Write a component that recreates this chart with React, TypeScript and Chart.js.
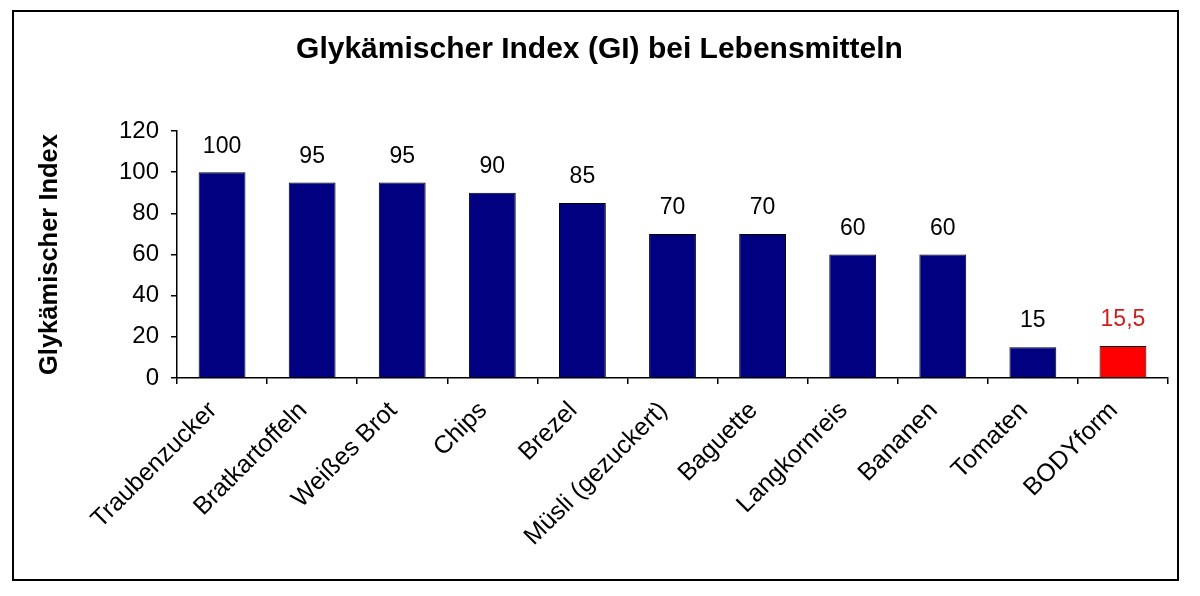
import React, { useEffect, useRef } from "react";
import { Chart, registerables } from "chart.js";

Chart.register(...registerables);

const categories = [
  "Traubenzucker",
  "Bratkartoffeln",
  "Weißes Brot",
  "Chips",
  "Brezel",
  "Müsli (gezuckert)",
  "Baguette",
  "Langkornreis",
  "Bananen",
  "Tomaten",
  "BODYform",
];
const giValues = [100, 95, 95, 90, 85, 70, 70, 60, 60, 15, 15.5];
const barColors = [
  "#000080", "#000080", "#000080", "#000080", "#000080", "#000080",
  "#000080", "#000080", "#000080", "#000080", "#ff0000",
];
const labelColors = [
  "#000000", "#000000", "#000000", "#000000", "#000000", "#000000",
  "#000000", "#000000", "#000000", "#000000", "#cc2020",
];
const yTicks = [0, 20, 40, 60, 80, 100, 120];
const chartTitle = "Glykämischer Index (GI) bei Lebensmitteln";
const yTitle = "Glykämischer Index";

const FONT = "'Liberation Sans', Arial, sans-serif";

const frame = {
  id: "frame",
  beforeDraw(chart: any) {
    const { ctx } = chart;
    ctx.save();
    ctx.fillStyle = "#ffffff";
    ctx.fillRect(0, 0, chart.width, chart.height);
    ctx.strokeStyle = "#000000";
    ctx.lineWidth = 2;
    ctx.strokeRect(13, 11, 1165, 569);
    ctx.restore();
  },
};

const valueLabels = {
  id: "valueLabels",
  afterDatasetsDraw(chart: any) {
    const { ctx } = chart;
    const meta = chart.getDatasetMeta(0);
    ctx.save();
    ctx.font = `23px ${FONT}`;
    ctx.textAlign = "center";
    ctx.textBaseline = "middle";
    meta.data.forEach((bar: any, i: number) => {
      const v = giValues[i];
      ctx.fillStyle = labelColors[i];
      ctx.fillText(String(v).replace(".", ","), bar.x, bar.y - 26);
    });
    ctx.restore();
  },
};

export default function App() {
  const ref = useRef<HTMLCanvasElement | null>(null);
  useEffect(() => {
    if (!ref.current) return;
    const chart = new Chart(ref.current, {
      type: "bar",
      data: {
        labels: categories,
        datasets: [
          {
            data: giValues,
            backgroundColor: barColors,
            borderColor: "#000000",
            borderWidth: 1,
            categoryPercentage: 1,
            barPercentage: 0.52,
          },
        ],
      },
      options: {
        animation: false,
        responsive: false,
        layout: { padding: { left: 31, right: 32, top: 0, bottom: 0 } },
        plugins: {
          legend: { display: false },
          tooltip: { enabled: false },
          title: {
            display: true,
            text: chartTitle,
            color: "#000000",
            font: { family: FONT, size: 30, weight: "bold" },
            padding: { top: 32, bottom: 63 },
          },
        },
        scales: {
          x: {
            offset: true,
            grid: {
              display: true,
              offset: true,
              drawOnChartArea: false,
              drawTicks: true,
              tickLength: 6,
              color: "#000000",
              lineWidth: 1.5,
            },
            border: { display: true, color: "#000000", width: 1.5 },
            ticks: {
              color: "#000000",
              font: { family: FONT, size: 25 },
              maxRotation: 45,
              minRotation: 45,
              autoSkip: false,
              padding: 12,
              labelOffset: -9,
            },
            afterFit(scale: any) {
              scale.height = 218;
            },
          },
          y: {
            min: 0,
            max: 120,
            afterBuildTicks(scale: any) {
              scale.ticks = yTicks.map((v) => ({ value: v }));
            },
            grid: {
              display: true,
              drawOnChartArea: false,
              drawTicks: true,
              tickLength: 6,
              color: "#000000",
              lineWidth: 1.5,
            },
            border: { display: true, color: "#000000", width: 1.5 },
            ticks: {
              color: "#000000",
              font: { family: FONT, size: 24 },
              padding: 12,
            },
            title: {
              display: true,
              text: yTitle,
              color: "#000000",
              font: { family: FONT, size: 25.5, weight: "bold" },
              padding: { top: 4, bottom: 4 },
            },
            afterFit(scale: any) {
              scale.width = 146;
            },
          },
        },
      },
      plugins: [frame, valueLabels],
    });
    return () => chart.destroy();
  }, []);
  return (
    <div style={{ position: "fixed", left: 0, top: 0, width: 1200, height: 596, background: "#fff" }}>
      <canvas ref={ref} width={1200} height={596} style={{ width: 1200, height: 596 }} />
    </div>
  );
}
